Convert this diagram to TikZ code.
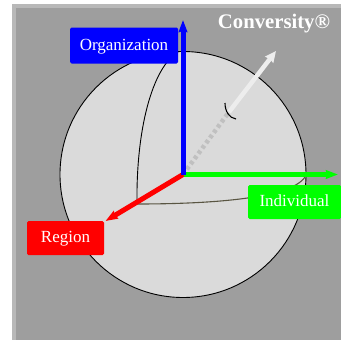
\documentclass[tikz,border=0pt]{standalone}
\usepackage{fontspec}
\setmainfont{Liberation Serif}
\usetikzlibrary{arrows.meta,calc,positioning}
\definecolor{panelgray}{HTML}{9E9E9E}
\definecolor{edgegray}{HTML}{B8B8B8}
\definecolor{ballgray}{HTML}{DADADA}
\tikzset{axisbox/.style={rounded corners=1.5pt, inner sep=0pt, minimum height=34pt, text height=13.4pt, text depth=4pt, text=white, font=\fontsize{17}{17}\selectfont, align=center},
  axis/.style={-{Stealth[length=12pt,width=8.5pt,inset=1pt]}, line width=5pt},
  wire/.style={black, line width=0.9pt}}
\begin{document}
\begin{tikzpicture}[x=1pt,y=-1pt]
  \useasboundingbox (0,0) rectangle (341,340);
  % panel and ball
  \fill[edgegray] (12,4) rectangle (341,340);
  \fill[panelgray] (16,8) rectangle (341,340);
  \node[circle, draw=black, line width=0.9pt, fill=ballgray, minimum size=246pt, inner sep=0pt] (ball) at (183,174.5) {};
  \coordinate (centre) at (183,174.5);
  \coordinate (corner) at (137,204);
  \coordinate (top) at (178,52);
  \coordinate (rim) at (305,177);
  % curves on the ball
  \draw[wire] (top) .. controls (152,68) and (136,130) .. (corner);
  \draw[black!75!yellow, line width=1.1pt] (corner) .. controls (200,204) and (290,200) .. (rim);
  % boxes
  \node[axisbox, fill=blue, minimum width=108pt, minimum height=36pt] (org) at (124,45.5) {Organization};
  \node[axisbox, fill=red, minimum width=77pt] (reg) at (65.5,238) {Region};
  \node[axisbox, fill=green, minimum width=93pt] (ind) at (294.5,202) {Individual};
  \coordinate (orgtip) at (183,20);
  \coordinate (indtip) at (338,174.5);
  \coordinate (regtip) at (105.5,221);
  \coordinate (midpt) at (229,112);
  \coordinate (contip) at (276,51);
  % axes
  \draw[ballgray!88!black, line width=4.5pt, dash pattern=on 3.5pt off 3pt] (centre) -- (midpt);
  \draw[-{Stealth[length=11pt,width=10pt,inset=1pt]}, white!93!black, line width=4.5pt] (midpt) -- (contip);
  \draw[axis, green] (centre) -- (indtip);
  \draw[axis, red] (centre) -- (regtip);
  \draw[axis, blue] (centre) -- (orgtip);
  \draw[black, line width=1.1pt] (225,103) .. controls (225,111) and (229,118) .. (236,119);
  \node[text=white, font=\fontsize{20.7}{20.7}\selectfont\bfseries] (title) at (274,23.5) {Conversity®};
\end{tikzpicture}
\end{document}
